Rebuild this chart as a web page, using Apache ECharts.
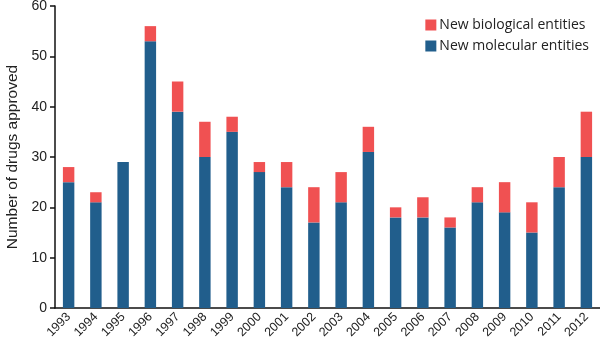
<!DOCTYPE html>
<html><head><meta charset="utf-8">
<script src="https://cdn.jsdelivr.net/npm/echarts@6/dist/echarts.min.js"></script>
<style>html,body{margin:0;padding:0;background:#fff}#c{width:600px;height:342px}</style>
</head><body><div id="c"></div>
<script>
var years = ['1993','1994','1995','1996','1997','1998','1999','2000','2001','2002','2003','2004','2005','2006','2007','2008','2009','2010','2011','2012'];
var nme = [25,21,29,53,39,30,35,27,24,17,21,31,18,18,16,21,19,15,24,30];
var nbe = [3,2,0,3,6,7,3,2,5,7,6,5,2,4,2,3,6,6,6,9];
var yTicks = [0,10,20,30,40,50,60];
var chart = echarts.init(document.getElementById('c'));
chart.setOption({
  animation: false,
  textStyle: {fontFamily: 'Liberation Sans'},
  grid: {left: 55, right: 0, top: 6, bottom: 34, containLabel: false, outerBoundsMode: 'none'},
  legend: {
    data: [{name:'New biological entities'},{name:'New molecular entities'}],
    orient: 'vertical', right: 6, top: 13,
    itemWidth: 11, itemHeight: 11, itemGap: 7,
    icon: 'rect',
    textStyle: {fontFamily: 'Open Sans', fontSize: 14, color: '#222', padding: [0,0,0,-2]}
  },
  xAxis: {
    type: 'category', data: years,
    axisLine: {lineStyle: {color: '#111', width: 1.5}},
    axisTick: {show: false},
    axisLabel: {rotate: 45, fontSize: 12.5, color: '#222', margin: 7, interval: 0}
  },
  yAxis: {
    type: 'value', min: 0, max: 60, interval: 10,
    name: 'Number of drugs approved', nameLocation: 'middle', nameGap: 33,
    nameTextStyle: {fontSize: 15.5, color: '#222'},
    axisLine: {show: true, lineStyle: {color: '#111', width: 1.5}},
    axisTick: {show: true, length: 5, lineStyle: {color: '#111', width: 1.5}},
    axisLabel: {fontSize: 14, color: '#222', margin: 8},
    splitLine: {show: false}
  },
  series: [
    {name: 'New molecular entities', type: 'bar', stack: 's', data: nme, barWidth: '42%',
     itemStyle: {color: '#215e8c'}},
    {name: 'New biological entities', type: 'bar', stack: 's', data: nbe, barWidth: '42%',
     itemStyle: {color: '#f05152'}}
  ]
});
</script></body></html>
